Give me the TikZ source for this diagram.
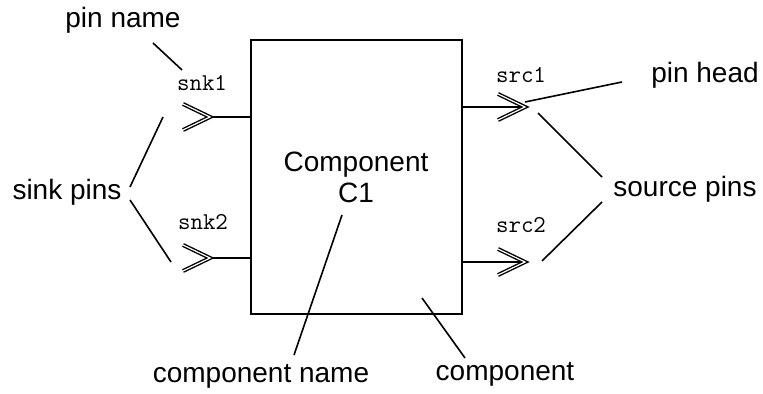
\documentclass[tikz,border=0pt]{standalone}
\usepackage{fontspec}
\setmainfont{Liberation Sans}
\begin{document}
\begin{tikzpicture}[x=0.5pt,y=-0.5pt,
  lbl/.style={font=\fontsize{14}{15.5}\selectfont, inner sep=0pt, align=center},
  pinlbl/.style={font=\ttfamily\fontsize{12.1}{13}\selectfont, inner sep=0pt},
  pointer/.style={line width=0.8pt},
  pinline/.style={line width=0.9pt},
  chev/.style={draw=black, double=white, line width=0.7pt, double distance=0.6pt, miter limit=10}]
\useasboundingbox (0,0) rectangle (763,394);
% component box
\node[draw, line width=1pt, minimum width=105.5pt, minimum height=137pt, inner sep=0pt] (box) at (356.5,177) {};
\node[lbl] (cname) at (356,177) {Component\\C1};
% pin head coordinates
\coordinate (t1) at (210,117);
\coordinate (t2) at (210,258);
\coordinate (t3) at (525,107);
\coordinate (t4) at (525,262);
\coordinate (b1) at (box.west |- t1);
\coordinate (b2) at (box.west |- t2);
\coordinate (b3) at (box.east |- t3);
\coordinate (b4) at (box.east |- t4);
\draw[pinline] (t1) -- (b1);
\draw[pinline] (t2) -- (b2);
\draw[pinline] (b3) -- (t3);
\draw[pinline] (b4) -- (t4);
\draw[chev] ([xshift=-13.5pt,yshift=6.5pt]t1) -- (t1) -- ([xshift=-13.5pt,yshift=-6.5pt]t1);
\draw[chev] ([xshift=-13.5pt,yshift=6.5pt]t2) -- (t2) -- ([xshift=-13.5pt,yshift=-6.5pt]t2);
\draw[chev] ([xshift=-13.5pt,yshift=6.5pt]t3) -- (t3) -- ([xshift=-13.5pt,yshift=-6.5pt]t3);
\draw[chev] ([xshift=-13.5pt,yshift=6.5pt]t4) -- (t4) -- ([xshift=-13.5pt,yshift=-6.5pt]t4);
% pin names
\node[pinlbl] (snk1) at (202,83) {snk1};
\node[pinlbl] (snk2) at (203,222) {snk2};
\node[pinlbl] (src1) at (521,75) {src1};
\node[pinlbl] (src2) at (521,225) {src2};
% labels
\node[lbl] (pinname) at (123,20) {pin name};
\node[lbl] (sinkpins) at (67,192) {sink pins};
\node[lbl] (pinhead) at (705,75) {pin head};
\node[lbl] (sourcepins) at (685,189) {source pins};
\node[lbl] (compname) at (261,376) {component name};
\node[lbl] (comp) at (505,374) {component};
% pointer ends
\coordinate (pn1) at (153,43);
\coordinate (pn2) at (182,70);
\coordinate (sk1) at (130,187);
\coordinate (sk1e) at (163,117);
\coordinate (sk2) at (130,200);
\coordinate (sk2e) at (171,262);
\coordinate (ph1) at (622,82);
\coordinate (ph2) at (525,102);
\coordinate (sp1) at (602,177);
\coordinate (sp1e) at (538,113);
\coordinate (sp2) at (602,202);
\coordinate (sp2e) at (542,261);
\coordinate (cn1) at (294,355);
\coordinate (cn2) at (342,215);
\coordinate (co1) at (465,358);
\coordinate (co2) at (422,298);
\draw[pointer] (pn1) -- (pn2);
\draw[pointer] (sk1) -- (sk1e);
\draw[pointer] (sk2) -- (sk2e);
\draw[pointer] (ph1) -- (ph2);
\draw[pointer] (sp1) -- (sp1e);
\draw[pointer] (sp2) -- (sp2e);
\draw[pointer] (cn1) -- (cn2);
\draw[pointer] (co1) -- (co2);
\end{tikzpicture}
\end{document}
